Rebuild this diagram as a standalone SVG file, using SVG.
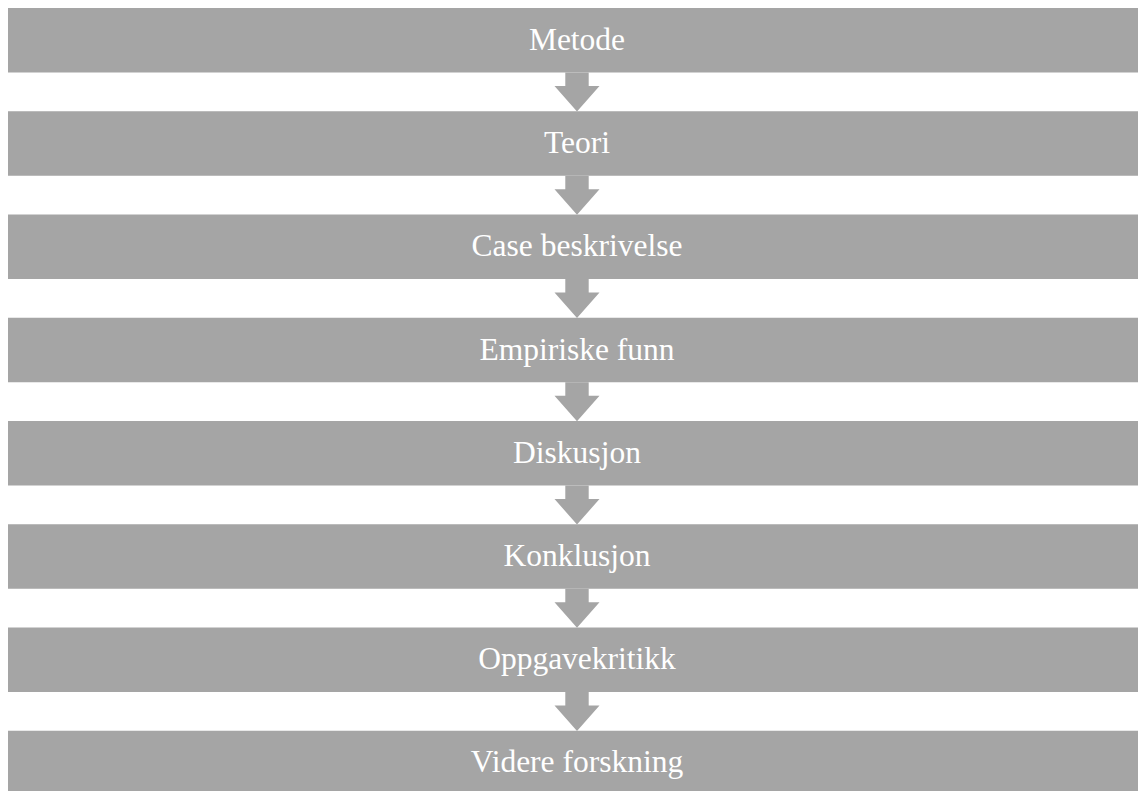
<svg xmlns="http://www.w3.org/2000/svg" xmlns:xlink="http://www.w3.org/1999/xlink" width="1138" height="791" viewBox="0 0 1138 791">
<style>
.box{fill:#a5a5a5}
.lbl{fill:#ffffff;font-family:"Liberation Serif","Times New Roman",serif;font-size:31.5px;text-anchor:middle}
.arr{fill:#a5a5a5}
</style>
<defs>
<polygon id="arrow" points="-11.7,0 11.7,0 11.7,13.5 22.5,13.5 0,39 -22.5,13.5 -11.7,13.5"/>
</defs>
<rect width="1138" height="791" fill="#ffffff"/>
<g id="connectors" class="arr">
<use xlink:href="#arrow" href="#arrow" x="577" y="72.5"/>
<use xlink:href="#arrow" href="#arrow" x="577" y="175.75"/>
<use xlink:href="#arrow" href="#arrow" x="577" y="279"/>
<use xlink:href="#arrow" href="#arrow" x="577" y="382.25"/>
<use xlink:href="#arrow" href="#arrow" x="577" y="485.5"/>
<use xlink:href="#arrow" href="#arrow" x="577" y="588.75"/>
<use xlink:href="#arrow" href="#arrow" x="577" y="692"/>
</g>
<g id="node1"><rect class="box" x="8" y="8" width="1138" height="64.5"/><text class="lbl" x="577" y="49.6">Metode</text></g>
<g id="node2"><rect class="box" x="8" y="111.25" width="1138" height="64.5"/><text class="lbl" x="577" y="152.9">Teori</text></g>
<g id="node3"><rect class="box" x="8" y="214.5" width="1138" height="64.5"/><text class="lbl" x="577" y="256.4">Case beskrivelse</text></g>
<g id="node4"><rect class="box" x="8" y="317.75" width="1138" height="64.5"/><text class="lbl" x="577" y="359.6">Empiriske funn</text></g>
<g id="node5"><rect class="box" x="8" y="421" width="1138" height="64.5"/><text class="lbl" x="577" y="462.9">Diskusjon</text></g>
<g id="node6"><rect class="box" x="8" y="524.25" width="1138" height="64.5"/><text class="lbl" x="577" y="566.1">Konklusjon</text></g>
<g id="node7"><rect class="box" x="8" y="627.5" width="1138" height="64.5"/><text class="lbl" x="577" y="669.4">Oppgavekritikk</text></g>
<g id="node8"><rect class="box" x="8" y="730.75" width="1138" height="64.5"/><text class="lbl" x="577" y="771.9">Videre forskning</text></g>
</svg>
